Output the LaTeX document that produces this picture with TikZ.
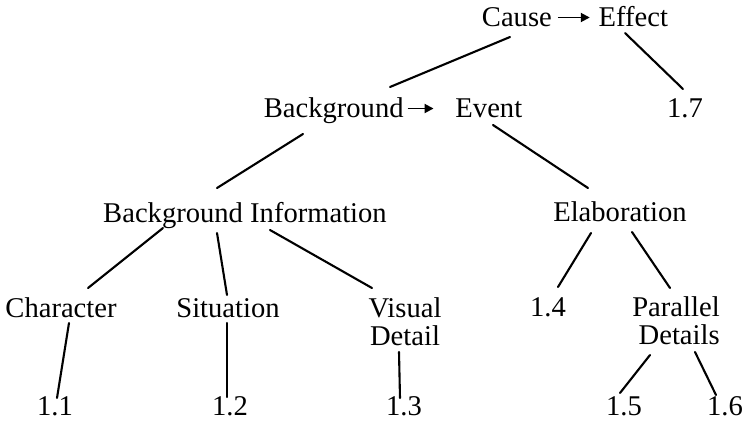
\documentclass[tikz,border=0pt]{standalone}
\usepackage{fontspec}
\usetikzlibrary{arrows.meta}
\setmainfont{Liberation Serif}
\tikzset{
  lbl/.style={anchor=base, inner sep=0pt, font=\fontsize{28.6}{28}\selectfont},
  link/.style={line width=2.1pt, line cap=round}
}
% two stacked lines, the box sitting on the first line's baseline
\newcommand{\twolines}[3]{\begin{tabular}[t]{@{}#1@{}}#2\\#3\end{tabular}}
% the relation arrow used inside labels; #1 is its length
\newcommand{\relarrow}[1]{\tikz[baseline=0pt]\draw[line width=1.9pt,
  -{Triangle[length=9pt,width=9pt]}] (0pt,8.5pt) -- (#1,8.5pt);}
\begin{document}
\begin{tikzpicture}[x=1pt, y=-1pt]
  \useasboundingbox (0,0) rectangle (742,432);

  % labels, placed by their baselines
  \node[lbl] (ce)  at (575,26)  {Cause\hspace{5pt}\relarrow{32pt}\hspace{8pt}Effect};
  \node[lbl] (be)  at (393,117) {Background\hspace{3pt}\relarrow{26pt}\hspace{21pt}Event};
  \node[lbl] (n17) at (685,117) {1.7};
  \node[lbl] (bi)  at (245,222) {Background Information};
  \node[lbl] (el)  at (620,221) {Elaboration};
  \node[lbl] (ch)  at (61,317)  {Character};
  \node[lbl] (si)  at (228,317) {Situation};
  \node[lbl] (vd)  at (405,317) {\twolines{c}{Visual}{Detail}};
  \node[lbl] (n14) at (548,316) {1.4};
  \node[lbl] (pd)  at (676,316) {\twolines{r}{Parallel}{Details}};
  \node[lbl] (n11) at (55,415)  {1.1};
  \node[lbl] (n12) at (230,415) {1.2};
  \node[lbl] (n13) at (404,415) {1.3};
  \node[lbl] (n15) at (624,415) {1.5};
  \node[lbl] (n16) at (725,415) {1.6};

  % tree branches
  \draw[link] ([shift={(-65,11)}]ce.base)  -- ([shift={(-3,-30)}]be.base);
  \draw[link] ([shift={(50,7)}]ce.base)    -- ([shift={(-2,-28)}]n17.base);
  \draw[link] ([shift={(-90,17)}]be.base)  -- ([shift={(-28,-34)}]bi.base);
  \draw[link] ([shift={(100,8)}]be.base)   -- ([shift={(-32,-33)}]el.base);
  \draw[link] ([shift={(-82,6)}]bi.base)   -- ([shift={(27,-29)}]ch.base);
  \draw[link] ([shift={(-28,11)}]bi.base)  -- ([shift={(-1,-22)}]si.base);
  \draw[link] ([shift={(25,8)}]bi.base)    -- ([shift={(-33,-29)}]vd.base);
  \draw[link] ([shift={(8,6)}]ch.base)     -- ([shift={(2,-17)}]n11.base);
  \draw[link] ([shift={(-1,6)}]si.base)    -- ([shift={(-3,-18)}]n12.base);
  \draw[link] ([shift={(-6,35)}]vd.base)   -- ([shift={(-4,-17)}]n13.base);
  \draw[link] ([shift={(-29,12)}]el.base)  -- ([shift={(10,-29)}]n14.base);
  \draw[link] ([shift={(12,11)}]el.base)   -- ([shift={(-6,-28)}]pd.base);
  \draw[link] ([shift={(-26,39)}]pd.base)  -- ([shift={(-4,-22)}]n15.base);
  \draw[link] ([shift={(19,36)}]pd.base)   -- ([shift={(-9,-20)}]n16.base);
\end{tikzpicture}
\end{document}
